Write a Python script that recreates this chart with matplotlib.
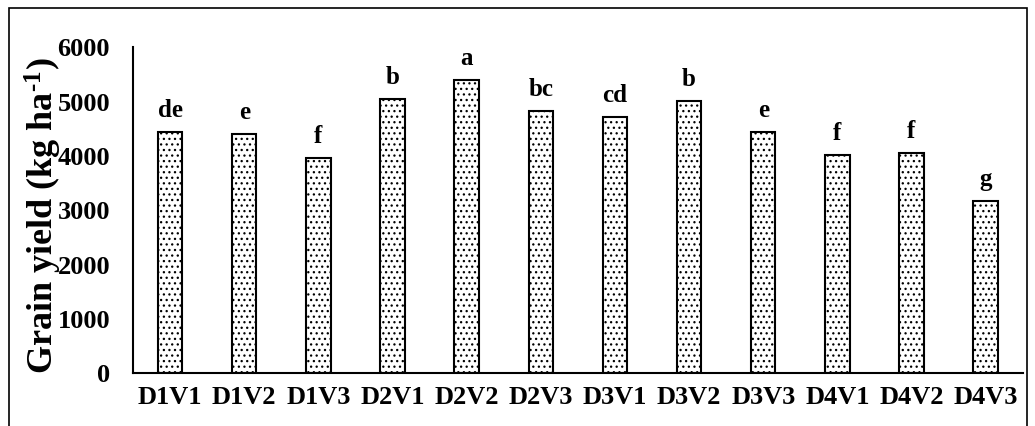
import matplotlib
matplotlib.use("Agg")
import matplotlib.pyplot as plt
from matplotlib.patches import Rectangle

categories = ["D1V1", "D1V2", "D1V3", "D2V1", "D2V2", "D2V3",
              "D3V1", "D3V2", "D3V3", "D4V1", "D4V2", "D4V3"]
yield_values = [4435, 4392, 3950, 5032, 5390, 4820,
                4710, 4998, 4432, 4005, 4040, 3162]
letters = ["de", "e", "f", "b", "a", "bc", "cd", "b", "e", "f", "f", "g"]
y_ticks = [0, 1000, 2000, 3000, 4000, 5000, 6000]

plt.rcParams['font.family'] = ['Liberation Serif', 'DejaVu Serif']
plt.rcParams['mathtext.fontset'] = 'custom'
plt.rcParams['mathtext.rm'] = 'Liberation Serif:bold'
plt.rcParams['mathtext.bf'] = 'Liberation Serif:bold'
plt.rcParams['mathtext.it'] = 'Liberation Serif:bold'
plt.rcParams['hatch.linewidth'] = 0.9

W, H = 1035, 427
fig = plt.figure(figsize=(W / 100, H / 100), dpi=100)
ax = fig.add_axes([133 / W, 1 - 373.5 / H, (1022.7 - 133) / W, (373.5 - 47.5) / H])

x = list(range(len(categories)))
bars = ax.bar(x, yield_values, width=0.33, color='white', edgecolor='black',
              linewidth=1.5, hatch='...')

for xi, v, lab in zip(x, yield_values, letters):
    ax.annotate(lab, (xi, v), xytext=(0, 11.5), textcoords='offset points',
                ha='center', va='baseline', fontsize=18, fontweight='bold')

ax.set_xlim(-0.5, len(categories) - 0.5)
ax.set_ylim(0, 6000)
ax.set_yticks(y_ticks)
ax.set_yticklabels([str(t) for t in y_ticks], fontsize=19, fontweight='bold')
ax.set_xticks(x)
ax.set_xticklabels(categories, fontsize=19, fontweight='bold')
ax.tick_params(axis='y', length=0, pad=16.5)
ax.tick_params(axis='x', length=0, pad=9)
for s in ['top', 'right']:
    ax.spines[s].set_visible(False)
for s in ['left', 'bottom']:
    ax.spines[s].set_linewidth(1.5)

ax.set_ylabel("Grain yield (kg ha$^{\\text{-}1}$)", fontsize=26, fontweight='bold')
ax.yaxis.set_label_coords(-0.078, 0.483)

border = Rectangle((9 / W, -0.1), (1027 - 9) / W, 1 - 9 / H + 0.1,
                   transform=fig.transFigure, fill=False, edgecolor='black',
                   linewidth=1.2, clip_on=False)
fig.patches.append(border)

fig.savefig("out.png", dpi=100)
